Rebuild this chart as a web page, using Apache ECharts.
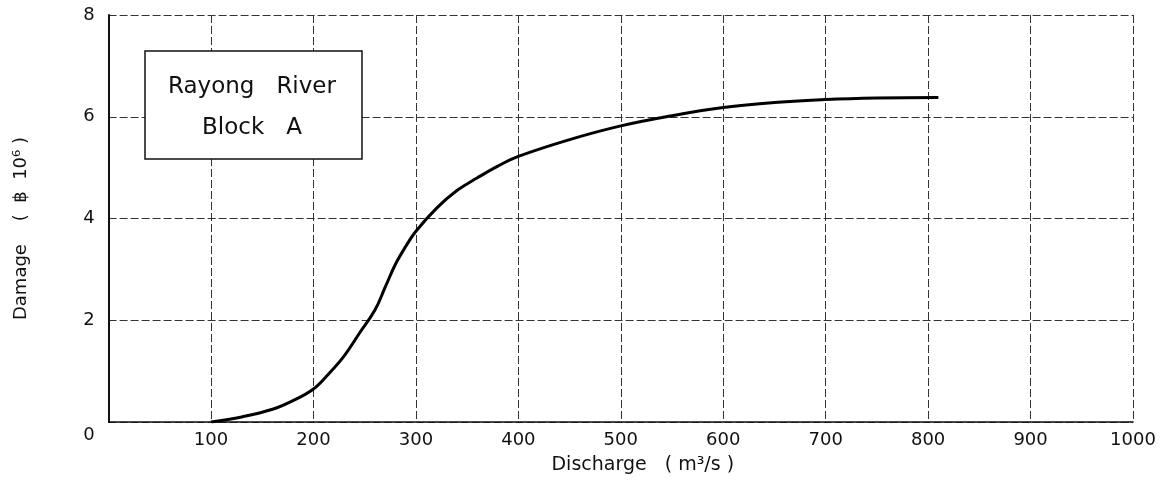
<!DOCTYPE html>
<html>
<head>
<meta charset="utf-8">
<script src="https://cdn.jsdelivr.net/npm/echarts@6/dist/echarts.min.js"></script>
<style>
html,body{margin:0;padding:0;background:#fff;}
#chart{width:1168px;height:480px;}
</style>
</head>
<body>
<div id="chart"></div>
<script>
const discharge = [100, 130, 160, 180, 200, 215, 230, 245, 260, 270, 280, 290, 300, 320, 340, 360, 380, 400, 450, 500, 550, 600, 650, 700, 750, 810];
const damage    = [0.0, 0.1, 0.25, 0.42, 0.65, 0.95, 1.3, 1.75, 2.2, 2.65, 3.1, 3.45, 3.75, 4.2, 4.55, 4.8, 5.03, 5.22, 5.55, 5.82, 6.02, 6.18, 6.28, 6.34, 6.37, 6.38];
const xTicks = [0, 100, 200, 300, 400, 500, 600, 700, 800, 900, 1000];
const yTicks = [0, 2, 4, 6, 8];
const boxLines = ['Rayong   River', 'Block   A'];

const FONT = 'DejaVu Sans';
const chart = echarts.init(document.getElementById('chart'), null, {renderer: 'canvas'});
const gLeft = 108.6, gTop = 15, gRight = 35, gBottom = 55;

chart.setOption({
  backgroundColor: '#ffffff',
  animation: false,
  grid: {left: gLeft, top: gTop, right: gRight, bottom: gBottom, containLabel: false},
  xAxis: {
    type: 'value', min: 0, max: 1000, interval: 100,
    name: 'Discharge   ( m³/s )', nameLocation: 'middle', nameGap: 34,
    nameTextStyle: {fontFamily: FONT, fontSize: 19, color: '#111', padding: [0, 0, 0, 44]},
    axisLine: {show: true, lineStyle: {color: '#111', width: 1.5}},
    axisTick: {show: false},
    axisLabel: {fontFamily: FONT, fontSize: 18, color: '#111', margin: 9, showMinLabel: false,
      formatter: v => xTicks.includes(v) ? String(v) : ''},
    splitLine: {show: true, lineStyle: {color: '#333', width: 1, type: [8, 3]}}
  },
  yAxis: {
    type: 'value', min: 0, max: 8, interval: 2,
    name: 'Damage    (  ฿  10⁶ )', nameLocation: 'middle', nameGap: 78,
    nameTextStyle: {fontFamily: FONT, fontSize: 18, color: '#111', padding: [0, 20, 0, 0]},
    axisLine: {show: true, lineStyle: {color: '#111', width: 2}},
    axisTick: {show: false},
    axisLabel: {fontFamily: FONT, fontSize: 18, color: '#111', margin: 14,
      formatter: v => yTicks.includes(v) ? (v === 0 ? '{z|0}' : String(v)) : '',
      rich: {z: {fontFamily: FONT, fontSize: 18, color: '#111', padding: [26, 0, 0, 0]}}},
    splitLine: {show: true, lineStyle: {color: '#333', width: 1, type: [8, 3]}}
  },
  series: [{
    type: 'line',
    data: discharge.map((x, i) => [x, damage[i]]),
    smooth: 0.4,
    showSymbol: false,
    lineStyle: {color: '#000', width: 3},
    z: 5
  }],
  graphic: [
    {type: 'rect', shape: {x: 145, y: 51, width: 217, height: 108},
     style: {fill: '#fff', stroke: '#111', lineWidth: 1.5}, z: 10},
    {type: 'text', x: 252, y: 87, z: 11,
     style: {text: boxLines[0], font: '23px "DejaVu Sans"', fill: '#111', align: 'center', verticalAlign: 'middle'}},
    {type: 'text', x: 252, y: 128, z: 11,
     style: {text: boxLines[1], font: '23px "DejaVu Sans"', fill: '#111', align: 'center', verticalAlign: 'middle'}}
  ]
});
</script>
</body>
</html>
